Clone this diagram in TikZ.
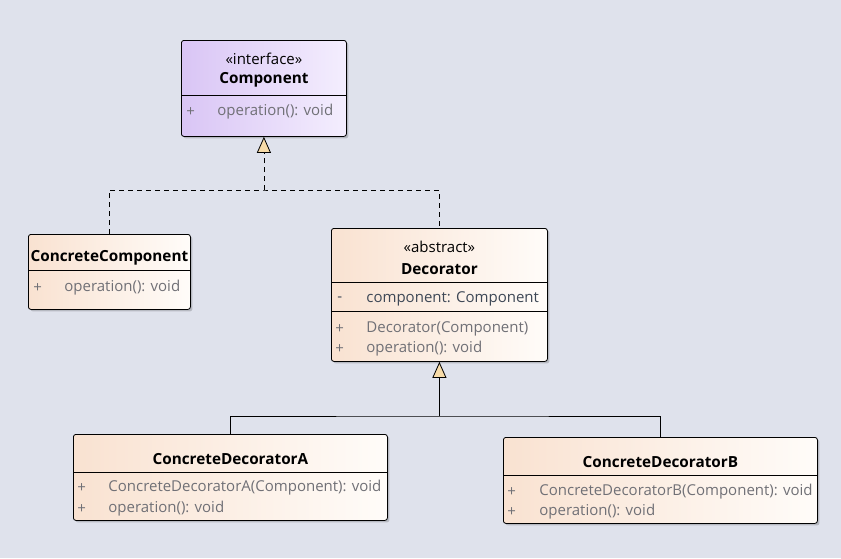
\documentclass[tikz,border=0pt]{standalone}
\usepackage{fontspec}
\setmainfont{Open Sans}
\usetikzlibrary{arrows.meta, positioning, calc, shadows}

\definecolor{bgcol}{RGB}{223,226,236}
\definecolor{peachL}{RGB}{249,226,209}
\definecolor{peachR}{RGB}{255,252,249}
\definecolor{lilacL}{RGB}{217,197,245}
\definecolor{lilacR}{RGB}{244,238,254}
\definecolor{membercol}{RGB}{112,112,118}
\definecolor{attrcol}{RGB}{62,72,86}
\definecolor{tipcol}{RGB}{247,219,168}

\newcommand{\umlfont}{\fontsize{15}{18}\selectfont}
\newcommand{\umltitlefont}{\fontsize{15.3}{18}\selectfont\bfseries}

\begin{document}
\begin{tikzpicture}[
      x=1pt, y=-1pt, line width=0.8pt,
      classbox/.style={rectangle, draw, rounded corners=2.5pt, anchor=north west,
        left color=peachL, right color=peachR,
        drop shadow={shadow xshift=2pt, shadow yshift=-2pt, fill=black, opacity=0.18}},
      ifacebox/.style={classbox, left color=lilacL, right color=lilacR},
      title/.style={font=\umltitlefont, text=black},
      stereo/.style={font=\umlfont, text=black},
      member/.style={font=\umlfont, text=membercol, anchor=west, inner sep=0pt},
      attr/.style={member, text=attrcol},
      realize/.style={dash pattern=on 5pt off 4pt},
      generalize/.style={-{Triangle[width=14pt, length=16pt, fill=tipcol]}}
    ]
    \fill[bgcol] (0,0) rectangle (841,558);
    \useasboundingbox (0,0) rectangle (841,558);

    % class boxes
    \node[ifacebox, minimum width=165pt, minimum height=96pt] (comp) at (181,40) {};
    \node[classbox, minimum width=162pt, minimum height=75pt] (ccomp) at (28,234) {};
    \node[classbox, minimum width=216pt, minimum height=133pt] (deco) at (331,228) {};
    \node[classbox, minimum width=314pt, minimum height=86pt] (decoA) at (73,434) {};
    \node[classbox, minimum width=314pt, minimum height=86pt] (decoB) at (503,437) {};

    % compartments
    \draw ([yshift=-55pt]comp.north west) -- ([yshift=-55pt]comp.north east);
    \draw ([yshift=-36pt]ccomp.north west) -- ([yshift=-36pt]ccomp.north east);
    \draw ([yshift=-54pt]deco.north west) -- ([yshift=-54pt]deco.north east);
    \draw ([yshift=-83pt]deco.north west) -- ([yshift=-83pt]deco.north east);
    \draw ([yshift=-38pt]decoA.north west) -- ([yshift=-38pt]decoA.north east);
    \draw ([yshift=-38pt]decoB.north west) -- ([yshift=-38pt]decoB.north east);

    % Component
    \node[stereo] (compst) at ([yshift=-19pt]comp.north) {«interface»};
    \node[title] (compnm) at ([yshift=-40pt]comp.north) {Component};
    \node[member] (compv1) at (186,112) {+};
    \node[member] (compm1) at (217,112) {operation(): void};

    % ConcreteComponent
    \node[title] (ccompnm) at ([yshift=-24pt]ccomp.north) {ConcreteComponent};
    \node[member] (ccompv1) at (33,288) {+};
    \node[member] (ccompm1) at (64,288) {operation(): void};

    % Decorator
    \node[stereo] (decost) at ([yshift=-19pt]deco.north) {«abstract»};
    \node[title] (deconm) at ([yshift=-41pt]deco.north) {Decorator};
    \node[attr] (decov1) at (337,299) {-};
    \node[attr] (decoa1) at (366,299) {component: Component};
    \node[member] (decov2) at (335,329) {+};
    \node[member] (decom1) at (366,329) {Decorator(Component)};
    \node[member] (decov3) at (335,349) {+};
    \node[member] (decom2) at (366,349) {operation(): void};

    % ConcreteDecoratorA
    \node[title] (decoAnm) at ([yshift=-25pt]decoA.north) {ConcreteDecoratorA};
    \node[member] (decoAv1) at (77,488) {+};
    \node[member] (decoAm1) at (108,488) {ConcreteDecoratorA(Component): void};
    \node[member] (decoAv2) at (77,509) {+};
    \node[member] (decoAm2) at (108,509) {operation(): void};

    % ConcreteDecoratorB
    \node[title] (decoBnm) at ([yshift=-25pt]decoB.north) {ConcreteDecoratorB};
    \node[member] (decoBv1) at (507,492) {+};
    \node[member] (decoBm1) at (539,492) {ConcreteDecoratorB(Component): void};
    \node[member] (decoBv2) at (507,512) {+};
    \node[member] (decoBm2) at (539,512) {operation(): void};

    % connectors
    \coordinate (dashj) at (comp.south |- 0,190);
    \coordinate (solj) at (deco.south |- 0,416);
    \draw[realize] (ccomp.north) |- (dashj) -| (deco.north);
    \draw[realize, generalize] (dashj) -- (comp.south);
    \draw (decoA.north) |- (solj) -| (decoB.north);
    \draw[generalize] (solj) -- (deco.south);
  \end{tikzpicture}
\end{document}
